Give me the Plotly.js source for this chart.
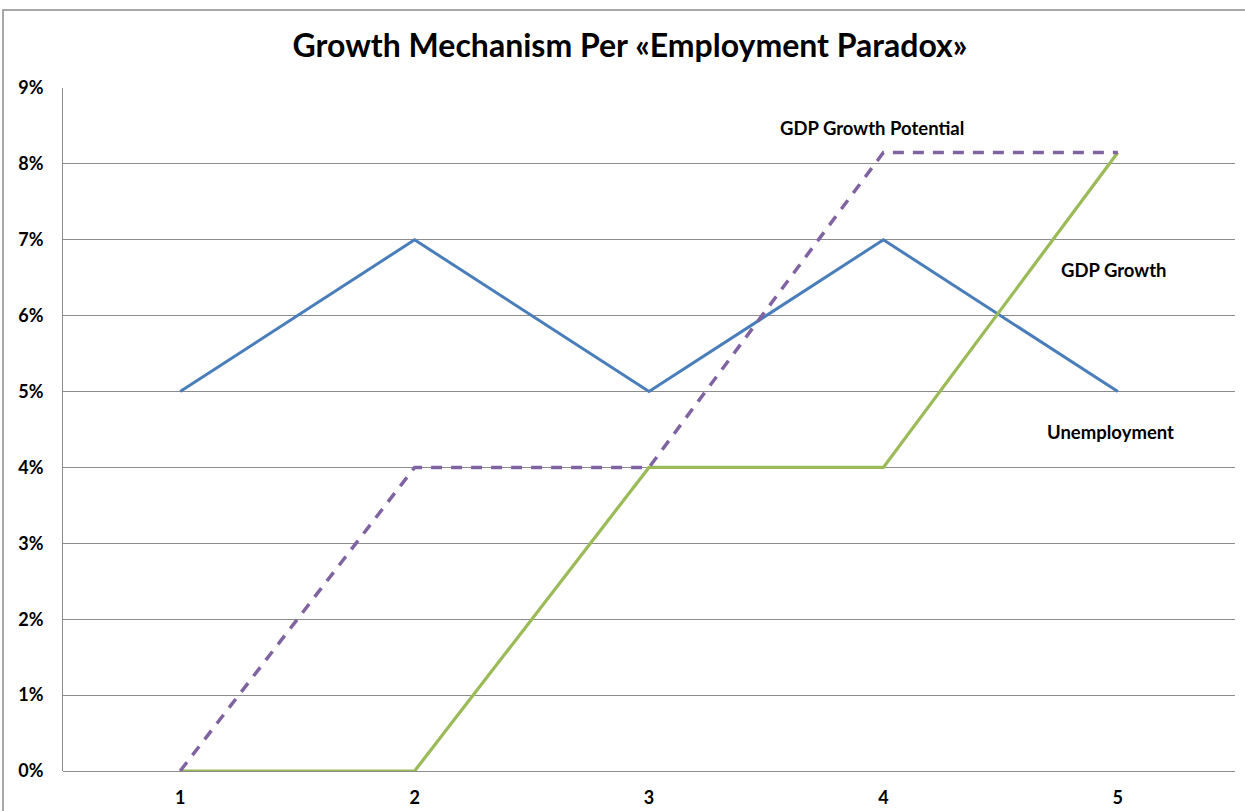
<!DOCTYPE html>
<html>
<head>
<meta charset="utf-8">
<script src="https://cdn.plot.ly/plotly-3.0.1.min.js"></script>
<style>
  html, body { margin: 0; padding: 0; background: #fff; }
  #chart { width: 1245px; height: 811px; }
</style>
</head>
<body>
<div id="chart"></div>
<script>
// Periods on the horizontal axis
const periods = ['1', '2', '3', '4', '5'];

// Series values (fractions, shown as percentages)
const gdpGrowth = [0.05, 0.07, 0.05, 0.07, 0.05];
const unemployment = [0, 0, 0.04, 0.04, 0.0815];
const gdpPotential = [0, 0.04, 0.04, 0.0815, 0.0815];

// Y axis ticks
const yTicks = [0, 0.01, 0.02, 0.03, 0.04, 0.05, 0.06, 0.07, 0.08, 0.09];

// Inline series labels: text, category position, value
const labelTexts = ['GDP Growth Potential', 'GDP Growth', 'Unemployment'];
const labelX = [2.95, 3.985, 3.97];
const labelY = [0.0847, 0.066, 0.0447];

const fontFamily = 'Lato, "Open Sans", "DejaVu Sans", sans-serif';
const gridColor = '#8c8c8c';

const traces = [
  {
    x: periods, y: gdpGrowth, type: 'scatter', mode: 'lines', name: 'GDP Growth',
    line: { color: '#4A7EBB', width: 3 }
  },
  {
    x: periods, y: unemployment, type: 'scatter', mode: 'lines', name: 'Unemployment',
    line: { color: '#9BBB59', width: 3.25 }
  },
  {
    x: periods, y: gdpPotential, type: 'scatter', mode: 'lines', name: 'GDP Growth Potential',
    line: { color: '#8064A2', width: 3.5, dash: '11px,9px' }
  }
];

const annotations = labelTexts.map((t, i) => ({
  text: '<b>' + t + '</b>',
  x: labelX[i], y: labelY[i], xref: 'x', yref: 'y',
  showarrow: false,
  font: { family: fontFamily, size: 18.5, color: '#000' }
}));

const layout = {
  width: 1245,
  height: 811,
  margin: { l: 63, r: 10, t: 88, b: 40 },
  paper_bgcolor: '#fff',
  plot_bgcolor: '#fff',
  showlegend: false,
  title: {
    text: '<b>Growth Mechanism Per «Employment Paradox»</b>',
    font: { family: fontFamily, size: 32, color: '#000' },
    x: 630 / 1245, xanchor: 'center',
    y: 1 - 46 / 811, yanchor: 'middle', yref: 'container'
  },
  xaxis: {
    type: 'category',
    range: [-0.5, 4.5],
    showgrid: false,
    zeroline: false,
    showline: false,
    ticks: '',
    ticklabelstandoff: 14,
    tickfont: { family: fontFamily, size: 18, color: '#000', weight: 'bold' },
    fixedrange: true
  },
  yaxis: {
    range: [0, 0.09],
    tickvals: yTicks,
    tickformat: '.0%',
    showgrid: true,
    gridcolor: gridColor,
    gridwidth: 1,
    zeroline: true,
    zerolinecolor: gridColor,
    zerolinewidth: 1,
    showline: true,
    linecolor: gridColor,
    linewidth: 1,
    ticks: '',
    ticklabelstandoff: 15,
    tickfont: { family: fontFamily, size: 18, color: '#000', weight: 'bold' },
    fixedrange: true
  },
  shapes: [
    // Outer chart frame (top and left edges visible)
    {
      type: 'rect', xref: 'paper', yref: 'paper', layer: 'above',
      x0: (3 - 63) / 1172, x1: 1.2,
      y0: -0.2, y1: (771 - 10) / 683,
      line: { color: '#8c8c8c', width: 1.5 }
    }
  ],
  annotations: annotations
};

Plotly.newPlot('chart', traces, layout, { displayModeBar: false, staticPlot: true });
</script>
</body>
</html>
